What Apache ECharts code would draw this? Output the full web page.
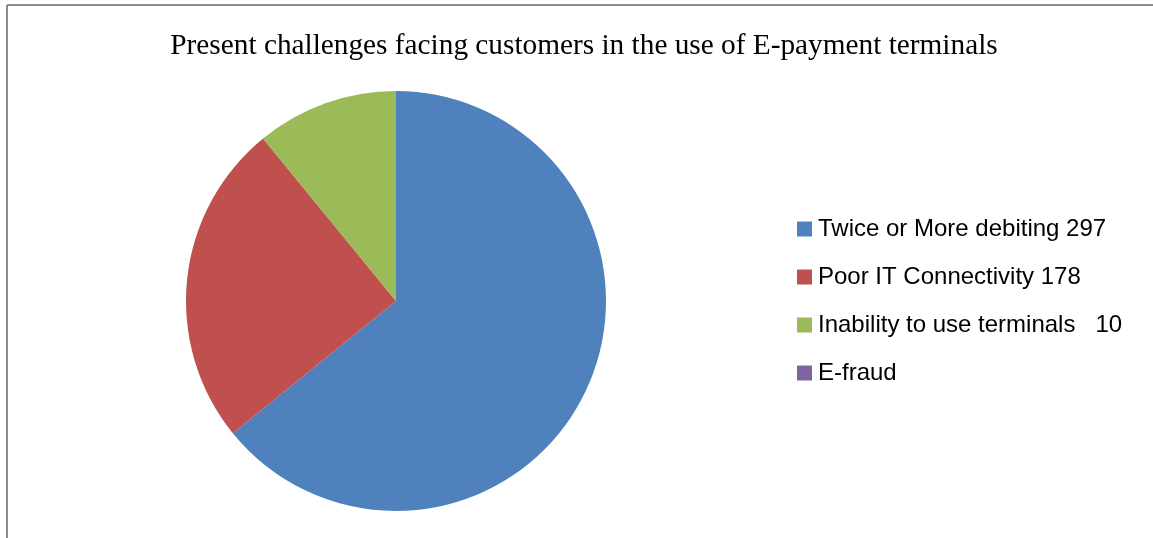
<!DOCTYPE html>
<html>
<head>
<meta charset="utf-8">
<script src="https://cdn.jsdelivr.net/npm/echarts@6/dist/echarts.min.js"></script>
<style>
html,body{margin:0;padding:0;background:#fff;}
#chart{width:1153px;height:538px;}
</style>
</head>
<body>
<div id="chart"></div>
<script>
const titleText = 'Present challenges facing customers in the use of E-payment terminals';
const categories = ['Twice or More debiting 297', 'Poor IT Connectivity 178', 'Inability to use terminals   10', 'E-fraud'];
const values = [64.1, 24.9, 10.9, 0];
const colors = ['#4F81BD', '#C0504D', '#9BBB59', '#8064A2'];

const chart = echarts.init(document.getElementById('chart'), null, {renderer: 'canvas'});
chart.setOption({
  animation: false,
  backgroundColor: '#fff',
  title: {
    text: titleText,
    left: 579,
    textAlign: 'center',
    top: 27,
    textStyle: {fontFamily: 'Liberation Serif', fontSize: 29.3, fontWeight: 'normal', color: '#000'}
  },
  graphic: [
    {type: 'line', shape: {x1: 7, y1: 5, x2: 1153, y2: 5}, style: {stroke: '#8c8c8c', lineWidth: 2}},
    {type: 'line', shape: {x1: 7, y1: 5, x2: 7, y2: 538}, style: {stroke: '#8c8c8c', lineWidth: 2}}
  ],
  legend: {
    orient: 'vertical',
    left: 792,
    top: 212,
    itemWidth: 15,
    itemHeight: 15,
    itemGap: 24,
    icon: 'rect',
    selectedMode: false,
    textStyle: {fontFamily: 'Liberation Sans', fontSize: 24, color: '#000', lineHeight: 24, padding: [0,0,0,1]},
    data: categories
  },
  series: [{
    type: 'pie',
    center: [396, 301],
    radius: 210,
    startAngle: 90,
    clockwise: true,
    label: {show: false},
    labelLine: {show: false},
    emphasis: {disabled: true},
    itemStyle: {borderWidth: 0},
    data: categories.map((c, i) => ({name: c, value: values[i], itemStyle: {color: colors[i]}}))
  }]
});
</script>
</body>
</html>
